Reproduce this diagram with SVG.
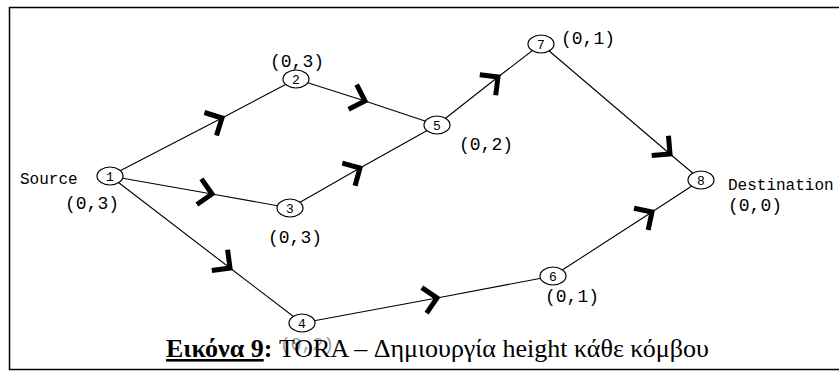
<svg xmlns="http://www.w3.org/2000/svg" width="839" height="377" viewBox="0 0 839 377">
<style>
.edge{stroke:#000;stroke-width:1.1;fill:none;marker-mid:url(#ah)}
.node ellipse{fill:#fff;stroke:#000;stroke-width:1.2}
.num{font-family:"Liberation Mono",monospace;font-size:13px;text-anchor:middle}
.lbl{font-family:"Liberation Mono",monospace;font-size:18px;fill:#000}
.word{font-family:"Liberation Mono",monospace;font-size:16px}
.cap{font-family:"Liberation Serif",serif;font-size:26px}
</style>
<defs>
<marker id="ah" markerUnits="userSpaceOnUse" orient="auto" markerWidth="40" markerHeight="40" viewBox="-20 -20 40 40" refX="0" refY="0" overflow="visible">
<path d="M-13,-13 L0,0 L-13,13" fill="none" stroke="#000" stroke-width="5" stroke-linejoin="miter"/>
</marker>
</defs>
<rect x="9.5" y="7.5" width="840" height="362" fill="#fff" stroke="#000" stroke-width="1.5"/>
<g id="connectors">
<polyline class="edge" points="110,176 222,118 296,79"/>
<polyline class="edge" points="296,79 365,101 437,125"/>
<polyline class="edge" points="110,176 212,194 290,208"/>
<polyline class="edge" points="290,208 360,168 437,125"/>
<polyline class="edge" points="437,125 498,77 541,44"/>
<polyline class="edge" points="541,44 670,154 701,180"/>
<polyline class="edge" points="110,176 230,268 302,323"/>
<polyline class="edge" points="302,323 437,298 553,276"/>
<polyline class="edge" points="553,276 652,212 701,180"/>
</g>
<g id="n1" class="node"><ellipse cx="110" cy="176" rx="13" ry="9"/><text class="num" x="110" y="181">1</text><text class="word" x="20" y="184">Source</text><text class="lbl" x="65" y="209">(0,3)</text></g>
<g id="n2" class="node"><ellipse cx="296" cy="79" rx="13" ry="9"/><text class="num" x="296" y="84">2</text><text class="lbl" x="270" y="67">(0,3)</text></g>
<g id="n3" class="node"><ellipse cx="290" cy="208" rx="13" ry="9"/><text class="num" x="290" y="213">3</text><text class="lbl" x="268" y="243">(0,3)</text></g>
<g id="n4" class="node"><ellipse cx="302" cy="323" rx="13" ry="9"/><text class="num" x="302" y="328">4</text><text class="lbl" x="280" y="350" style="fill:#999">(0,2)</text></g>
<g id="n5" class="node"><ellipse cx="437" cy="125" rx="13" ry="9"/><text class="num" x="437" y="130">5</text><text class="lbl" x="459" y="150">(0,2)</text></g>
<g id="n6" class="node"><ellipse cx="553" cy="276" rx="13" ry="9"/><text class="num" x="553" y="281">6</text><text class="lbl" x="545" y="302">(0,1)</text></g>
<g id="n7" class="node"><ellipse cx="541" cy="44" rx="13" ry="9"/><text class="num" x="541" y="49">7</text><text class="lbl" x="561" y="44">(0,1)</text></g>
<g id="n8" class="node"><ellipse cx="701" cy="180" rx="13" ry="9"/><text class="num" x="701" y="185">8</text><text class="word" x="728" y="190">Destination</text><text class="lbl" x="728" y="211">(0,0)</text></g>
<g id="caption"><text class="cap" x="166" y="357"><tspan font-weight="bold" text-decoration="underline">Εικόνα 9</tspan><tspan font-weight="bold">:</tspan> TORA – Δημιουργία height κάθε κόμβου</text></g>
</svg>
